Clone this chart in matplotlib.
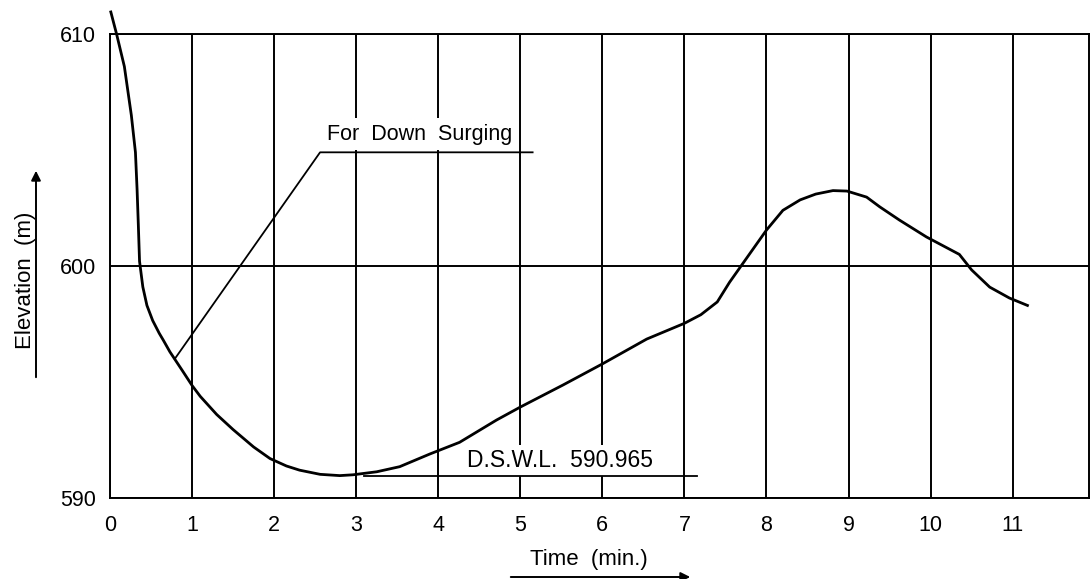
import matplotlib
matplotlib.use("Agg")
import matplotlib.pyplot as plt

plt.rcParams["font.family"] = ["Liberation Sans", "DejaVu Sans"]

# water level in the surge tank after load rejection (down surge)
time_min = [0.01, 0.08, 0.175, 0.26, 0.31, 0.33, 0.345, 0.36, 0.40, 0.45,
            0.52, 0.60, 0.65, 0.73, 0.88, 1.0, 1.1, 1.3, 1.5, 1.75,
            1.95, 2.15, 2.31, 2.56, 2.8, 2.96, 3.25, 3.53, 3.9, 4.26,
            4.71, 5.0, 5.52, 6.0, 6.54, 7.0, 7.2, 7.4, 7.55, 7.71,
            8.0, 8.2, 8.41, 8.6, 8.81, 8.98, 9.22, 9.38, 9.62, 9.95,
            10.35, 10.5, 10.72, 10.96, 11.18]
elevation = [610.95, 610.0, 608.6, 606.5, 604.9, 603.3, 601.8, 600.2, 599.1, 598.3,
             597.65, 597.1, 596.8, 596.3, 595.5, 594.85, 594.38, 593.6, 592.95, 592.2,
             591.7, 591.38, 591.2, 591.02, 590.965, 591.0, 591.13, 591.35, 591.9, 592.4,
             593.36, 593.92, 594.87, 595.78, 596.85, 597.53, 597.9, 598.45, 599.3, 600.1,
             601.55, 602.4, 602.85, 603.1, 603.25, 603.23, 602.97, 602.55, 601.98, 601.25,
             600.5, 599.83, 599.09, 598.62, 598.3]

dswl = 590.965
x_ticks = list(range(12))
y_ticks = [590, 600, 610]

fig = plt.figure(figsize=(10.9, 5.79), dpi=100)
ax = fig.add_axes([110 / 1090, 1 - 498 / 579, 979 / 1090, 464 / 579])

ax.set_xlim(0, 11.93)
ax.set_ylim(590, 610)
ax.set_xticks(x_ticks)
ax.set_yticks(y_ticks)
ax.tick_params(length=0, labelsize=15.5)
ax.tick_params(axis="x", pad=12)
ax.tick_params(axis="y", pad=10)
ax.grid(True, color="black", lw=1.4, zorder=0.5)
for s in ax.spines.values():
    s.set_linewidth(1.4)

ax.plot(time_min, elevation, color="black", lw=2.0, clip_on=False, zorder=4)

# leader for the curve label
ax.plot([0.79, 2.56, 5.15], [596.0, 604.9, 604.9], color="black", lw=1.3, zorder=3)
ax.text(2.64, 605.45, "For  Down  Surging", fontsize=15.5, va="baseline", ha="left",
        zorder=2.5, bbox=dict(facecolor="white", edgecolor="none", pad=4))

# design surge water level
ax.plot([3.1, 7.15], [dswl, dswl], color="black", lw=1.3, zorder=3)
ax.text(4.35, 591.35, f"D.S.W.L.  {dswl:.3f}", fontsize=16.5, va="baseline", ha="left",
        zorder=2.5, bbox=dict(facecolor="white", edgecolor="none", pad=3))

# axis titles with direction arrows
fig.text(25 / 1090, 1 - 280 / 579, "Elevation  (m)", rotation=90, fontsize=16,
         ha="center", va="center")
ax.annotate("", xy=(36 / 1090, 1 - 168 / 579), xytext=(36 / 1090, 1 - 380 / 579),
            xycoords="figure fraction", textcoords="figure fraction",
            arrowprops=dict(arrowstyle="-|>", lw=1.4, color="black", mutation_scale=14),
            annotation_clip=False)
fig.text(589 / 1090, 1 - 560 / 579, "Time  (min.)", fontsize=16, ha="center", va="center")
ax.annotate("", xy=(693 / 1090, 1 - 577 / 579), xytext=(508 / 1090, 1 - 577 / 579),
            xycoords="figure fraction", textcoords="figure fraction",
            arrowprops=dict(arrowstyle="-|>", lw=1.4, color="black", mutation_scale=14),
            annotation_clip=False)

fig.savefig("out.png", dpi=100, facecolor="white")
